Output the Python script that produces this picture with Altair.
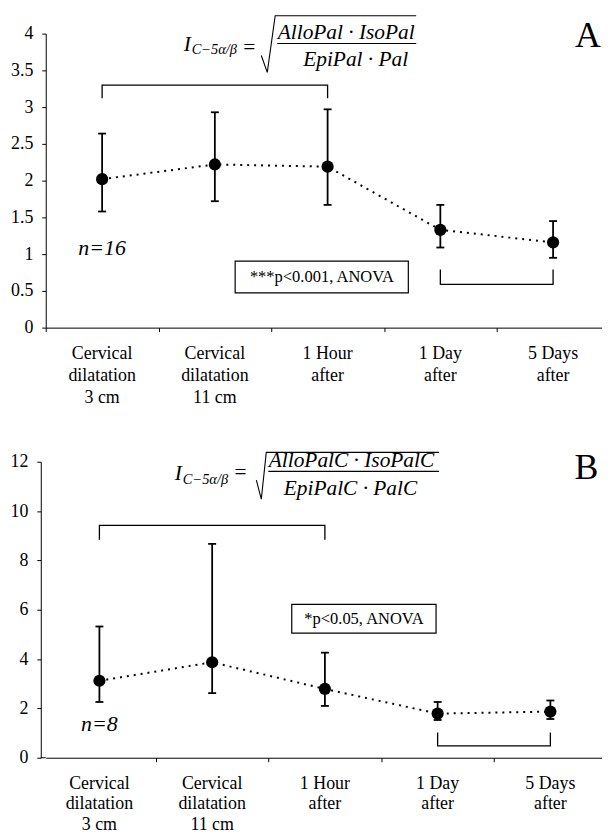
import altair as alt
import pandas as pd

# ---------------- data ----------------
categories = ["Cervical\ndilatation\n3 cm", "Cervical\ndilatation\n11 cm",
              "1 Hour\nafter", "1 Day\nafter", "5 Days\nafter"]

a_mean = [2.02, 2.22, 2.19, 1.33, 1.16]
a_upper = [2.64, 2.93, 2.97, 1.67, 1.45]
a_lower = [1.58, 1.72, 1.67, 1.09, 0.95]

b_mean = [3.12, 3.87, 2.79, 1.79, 1.87]
b_upper = [5.32, 8.67, 4.26, 2.26, 2.32]
b_lower = [2.26, 2.62, 2.10, 1.53, 1.57]

a_ticks = [0, 0.5, 1, 1.5, 2, 2.5, 3, 3.5, 4]
b_ticks = [0, 2, 4, 6, 8, 10, 12]

a_num = "AlloPal · IsoPal"
a_den = "EpiPal · Pal"
b_num = "AlloPalC · IsoPalC"
b_den = "EpiPalC · PalC"
sub_txt = "C−5α/β"
a_stat = "***p<0.001, ANOVA"
b_stat = "*p<0.05, ANOVA"
a_n = "n=16"
b_n = "n=8"

# ---------------- layout ----------------
SERIF = "Liberation Serif"
W = 560
STEP = 113.5
band_edges = [-0.5, 0.5, 1.5, 2.5, 3.5, 4.5]


def panel(mean, upper, lower, ymax, ticks, height, A, x0, yoff):
    xmax = x0 + W / STEP
    xs = alt.Scale(domain=[x0, xmax], nice=False, zero=False)
    ys = alt.Scale(domain=[0, ymax], nice=False, zero=True)
    xa = alt.Axis(values=[v for v in band_edges if x0 <= v <= xmax], labels=False,
                  tickSize=4, grid=False, title=None, domainColor="black",
                  tickColor="black", domainWidth=1, tickWidth=1)
    ya = alt.Axis(values=ticks, format="~g", tickSize=4, grid=False, title=None,
                  labelFont=SERIF, labelFontSize=18, labelColor="black",
                  labelPadding=9, domainColor="black", tickColor="black",
                  domainWidth=1, tickWidth=1, offset=yoff)

    def X(f):
        return alt.X(f, type="quantitative", scale=xs, axis=xa, title=None)

    def Y(f):
        return alt.Y(f, type="quantitative", scale=ys, axis=ya, title=None)

    df = pd.DataFrame({"idx": list(range(5)), "cat": categories,
                       "mean": mean, "upper": upper, "lower": lower})
    base = alt.Chart(df)

    line = base.mark_line(color="black", strokeDash=[2, 5], strokeWidth=2).encode(
        x=X("idx"), y=Y("mean"))
    err = base.mark_rule(color="black", strokeWidth=1.8).encode(
        x=X("idx"), y=Y("lower"), y2="upper:Q")
    cap_hi = base.mark_point(shape="M-1,0L1,0", size=64, filled=False, color="black",
                             strokeWidth=1.8, opacity=1).encode(x=X("idx"), y=Y("upper"))
    cap_lo = base.mark_point(shape="M-1,0L1,0", size=64, filled=False, color="black",
                             strokeWidth=1.8, opacity=1).encode(x=X("idx"), y=Y("lower"))
    pts = base.mark_circle(size=150, color="black", opacity=1).encode(x=X("idx"), y=Y("mean"))
    cat_lbl = base.mark_text(baseline="top", align="center", dy=A["lbl_dy"], font=SERIF,
                             fontSize=18, lineHeight=A["lbl_lh"], lineBreak="\n",
                             color="black").encode(
        x=X("idx"), y=alt.Y(datum=0, type="quantitative", scale=ys, axis=ya, title=None),
        text="cat:N")

    def txt(x, y, s, **kw):
        d = pd.DataFrame({"x": [x], "y": [y], "t": [s]})
        return alt.Chart(d).mark_text(color="black", **kw).encode(
            x=X("x"), y=Y("y"), text="t:N")

    def path(points, **kw):
        d = pd.DataFrame({"x": [p[0] for p in points], "y": [p[1] for p in points],
                          "o": list(range(len(points)))})
        return alt.Chart(d).mark_line(color="black", **kw).encode(
            x=X("x"), y=Y("y"), order="o:Q")

    def box(x1, x2, y1, y2):
        d = pd.DataFrame({"x": [x1], "x2": [x2], "y": [y1], "y2": [y2]})
        return alt.Chart(d).mark_rect(fill="white", stroke="black", strokeWidth=1.2).encode(
            x=X("x"), x2="x2:Q", y=Y("y"), y2="y2:Q")

    layers = [line, err, cap_hi, cap_lo, pts, cat_lbl]
    if yoff:
        # x-axis line continues left to the offset y-axis
        layers.append(path([(x0 - yoff / STEP, 0), (x0, 0)], strokeWidth=1))
    layers.append(path([(0, A["bt_end"]), (0, A["bt"]), (2, A["bt"]), (2, A["bt_end"])],
                       strokeWidth=1.3))
    layers.append(path([(3, A["bb_end"]), (3, A["bb"]), (4, A["bb"]), (4, A["bb_end"])],
                       strokeWidth=1.3))
    layers.append(box(*A["box"]))
    layers.append(txt(A["stat_xy"][0], A["stat_xy"][1], A["stat"], font=SERIF,
                      fontSize=16.6, baseline="middle", align="center"))
    layers.append(txt(0, A["n_y"], A["n"], font=SERIF, fontSize=22, fontStyle="italic",
                      baseline="alphabetic", align="center"))
    layers.append(txt(A["let_xy"][0], A["let_xy"][1], A["letter"], font=SERIF, fontSize=36,
                      baseline="top", align="center"))
    F = A["f"]
    layers.append(txt(F["I"][0], F["I"][1], "I", font=SERIF, fontSize=21.5,
                      fontStyle="italic", baseline="alphabetic", align="left"))
    layers.append(txt(F["sub"][0], F["sub"][1], sub_txt, font=SERIF, fontSize=14.5,
                      fontStyle="italic", baseline="alphabetic", align="left"))
    layers.append(txt(F["eq"][0], F["eq"][1], "=", font=SERIF, fontSize=21.5,
                      baseline="middle", align="center"))
    layers.append(path(F["rad"], strokeWidth=1.1))
    layers.append(path(F["frac"], strokeWidth=1.1))
    layers.append(txt(F["num"][0], F["num"][1], A["num"], font=SERIF, fontSize=21.5,
                      fontStyle="italic", baseline="alphabetic", align="center"))
    layers.append(txt(F["den"][0], F["den"][1], A["den"], font=SERIF, fontSize=21.5,
                      fontStyle="italic", baseline="alphabetic", align="center"))

    return alt.layer(*layers).properties(width=W, height=height)


ann_a = {
    "lbl_dy": 18, "lbl_lh": 22,
    "bt": 3.30, "bt_end": 3.12, "bb": 0.59, "bb_end": 0.79,
    "box": (1.18, 2.716, 0.905, 0.473), "stat_xy": (1.949, 0.69), "stat": a_stat,
    "n_y": 0.99, "n": a_n, "let_xy": (4.31, 4.195), "letter": "A",
    "num": a_num, "den": a_den,
    "f": {"I": (0.725, 3.77), "sub": (0.795, 3.716), "eq": (1.306, 3.81),
          "rad": [(1.412, 3.703), (1.465, 3.473), (1.535, 4.243), (2.786, 4.243)],
          "frac": [(1.553, 3.865), (2.786, 3.865)],
          "num": (2.165, 3.932), "den": (2.249, 3.554)},
}

ann_b = {
    "lbl_dy": 17, "lbl_lh": 21,
    "bt": 9.42, "bt_end": 8.84, "bb": 0.48, "bb_end": 1.02,
    "box": (1.706, 2.986, 6.22, 5.05), "stat_xy": (2.346, 5.64), "stat": b_stat,
    "n_y": 1.10, "n": b_n, "let_xy": (4.32, 12.44), "letter": "B",
    "num": b_num, "den": b_den,
    "f": {"I": (0.669, 11.25), "sub": (0.74, 11.09), "eq": (1.251, 11.53),
          "rad": [(1.392, 11.25), (1.436, 10.48), (1.48, 12.38), (3.013, 12.38)],
          "frac": [(1.498, 11.61), (3.013, 11.61)],
          "num": (2.236, 11.77), "den": (2.227, 10.65)},
}

chart_a = panel(a_mean, a_upper, a_lower, 4, a_ticks, 296, ann_a, -0.5, 0)
chart_b = panel(b_mean, b_upper, b_lower, 12, b_ticks, 298, ann_b, -0.476, 5)

chart = alt.concat(chart_a, chart_b, columns=1, spacing=135, bounds="flush").properties(
    padding={"left": 2, "top": 2, "right": 0, "bottom": 0},
    background="white",
).configure_view(stroke=None)

chart.save("out.html", embed_options={"renderer": "svg", "actions": False})
